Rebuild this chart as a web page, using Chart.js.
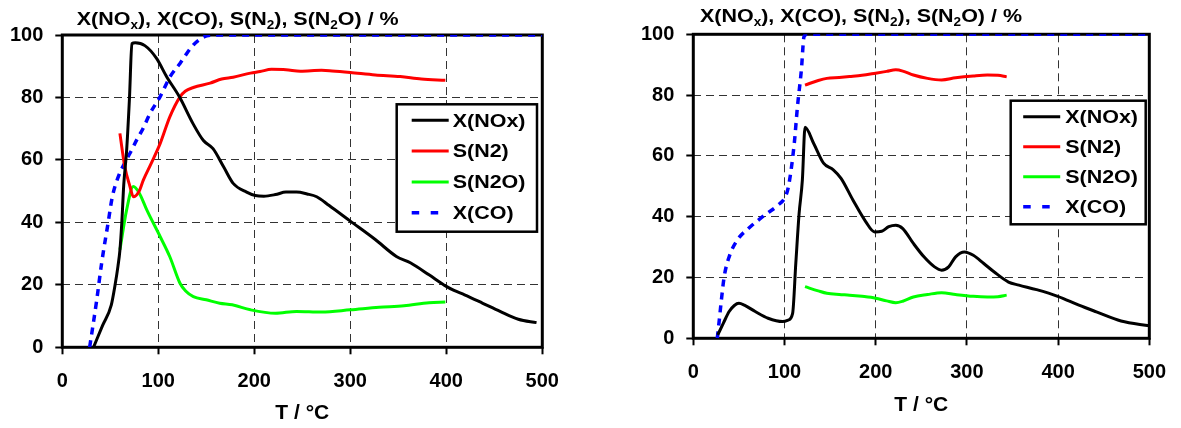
<!DOCTYPE html>
<html><head><meta charset="utf-8">
<script src="https://cdn.jsdelivr.net/npm/chart.js@4.4.1/dist/chart.umd.min.js"></script>
<style>
html,body{margin:0;padding:0;background:#fff;width:1181px;height:428px;overflow:hidden}
canvas{position:absolute;top:0}
</style></head><body>
<canvas id="c1" width="590" height="428" style="left:0"></canvas>
<canvas id="c2" width="591" height="428" style="left:590px"></canvas>
<script>
const xTickValues = [0, 100, 200, 300, 400, 500];
const yTickValues = [0, 20, 40, 60, 80, 100];
const seriesNames = ['X(NOx)', 'S(N2)', 'S(N2O)', 'X(CO)'];
const axisTitleX = 'T / °C';
const titleParts = [['X(NO', 0], ['x', 1], ['), X(CO), S(N', 0], ['2', 1], ['), S(N', 0], ['2', 1], ['O) / %', 0]];

// Left chart
const leftNOxT = [32.5,42,51,55,58,60,62,64,67,70,72.5,76,86,98,109,122,136,147,157,168,178,192,201,210,222,233,244,255,265,278,300,326,348,363,382,400,408,419,438,456,475,494];
const leftNOx  = [0,7,13.5,20,26,31,40,52,63,80,97.2,97.5,96.6,92.6,86.5,80.2,71.7,66.2,63.6,57.8,52.5,49.7,48.6,48.4,48.9,49.7,49.7,49.1,48.2,45.4,40.4,34.5,29.1,27,23.2,19.5,18.2,16.8,14.1,11.5,9,7.9];
const leftN2T  = [60,65,70.5,74,80,84.5,92,102,112,122.6,128,136.5,154,166,178,196,206,218,233,248,270,281,300,326,352,374,399];
const leftN2   = [68.5,58,51.5,48.2,50,53.6,58.5,65.3,73.8,80.2,82,83.2,84.6,85.9,86.5,87.8,88.3,89,88.9,88.4,88.7,88.5,88,87.2,86.7,85.9,85.5];
const leftN2OT = [60,67,74,80,88,102,112,122.6,128.5,136.5,150,164,177,196,222,244,270,300,330,356,382,399];
const leftN2O  = [31.2,44,51.5,49.5,44,35.4,29,20.5,18,16.2,15.2,14.1,13.6,12,10.9,11.5,11.3,12,12.8,13.3,14.3,14.5];
const leftCOT  = [28.5,35.8,41,47.9,52,58.3,65,72.3,77.5,84,91.4,101.8,112.2,122.6,136.5,150.4,160,500];
const leftCO   = [0,15,27,40.2,48,54.6,59,63.2,66.4,70,74.9,80.2,86.6,90.9,96.8,99.7,100,100];

// Right chart
const rightNOxT = [26.8,33,39.3,45,50,56,67.9,82,98,104,108.9,112.4,116,119.6,122.5,132,142.8,153.5,162,175,189,198.8,206.6,214.3,222,229.7,241.3,252.9,264.5,272.2,280,287.6,297.3,307,318.5,330,345.6,357,376.4,399.6,422.8,442,469,500];
const rightNOx  = [1.1,5,8.8,10.8,11.5,10.9,8.8,6.6,5.5,6,8.2,24.7,41,52.1,69.4,64.1,57.6,55.4,52.6,45.5,38.4,35,35.2,36.7,37.2,36.1,31.2,26.8,23.5,22.4,23.5,26.8,28.4,27.3,24.6,21.8,18.5,17.5,16,13.8,10.9,8.7,5.7,4.1];
const rightN2T  = [122.5,137,146.4,160,171.3,185,199.9,212,222,229.7,241.3,256.8,272.2,287.6,307,322.4,334,343.6];
const rightN2   = [83.3,84.8,85.5,85.8,86.1,86.5,87.2,87.8,88.3,87.9,86.6,85.5,85,85.7,86.3,86.6,86.5,86];
const rightN2OT = [122.5,137,146.4,160,171.3,185,199.9,212,222,229.7,241.3,256.8,272.2,287.6,307,322.4,334,343.6];
const rightN2O  = [17,15.6,14.8,14.4,14.2,13.8,13.2,12.3,11.7,12.2,13.6,14.4,15,14.4,13.8,13.6,13.7,14.2];
const rightCOT  = [26.3,28.5,30.4,33.9,39.3,48.2,60.7,78.6,92.8,101.7,105,110.7,114.2,118.5,121.4,124.9,500];
const rightCO   = [0,6,11.5,20.3,26.8,32.3,36.2,40.6,43.8,47.1,51,64.1,76.2,88.3,99.2,100,100];

const FONT = "'Liberation Sans', Arial, sans-serif";
const styles = [
  {color: '#000000', width: 3, dash: []},
  {color: '#ff0000', width: 3, dash: []},
  {color: '#00ff00', width: 3, dash: []},
  {color: '#0000ff', width: 3.5, dash: [7, 6]}
];

function pts(t, v) { return t.map((x, i) => ({x: x, y: v[i]})); }

const framePlugin = {
  id: 'frame',
  beforeDatasetsDraw(chart) {
    const {ctx, chartArea: a} = chart;
    ctx.save();
    ctx.strokeStyle = '#000';
    ctx.lineWidth = 3;
    ctx.strokeRect(a.left, a.top, a.right - a.left, a.bottom - a.top);
    ctx.restore();
  }
};

const legendPlugin = {
  id: 'boxLegend',
  afterDatasetsDraw(chart, args, opts) {
    const {ctx} = chart;
    const b = opts.box;
    ctx.save();
    ctx.fillStyle = '#fff';
    ctx.fillRect(b.x, b.y, b.w, b.h);
    ctx.strokeStyle = '#000';
    ctx.lineWidth = 2.5;
    ctx.strokeRect(b.x, b.y, b.w, b.h);
    ctx.textBaseline = 'middle';
    chart.data.datasets.forEach((ds, i) => {
      const y = b.y + opts.firstRow + i * opts.rowGap;
      ctx.beginPath();
      ctx.strokeStyle = ds.borderColor;
      ctx.lineWidth = ds.borderWidth;
      ctx.setLineDash(ds.borderDash && ds.borderDash.length ? [7.5, 11.5] : []);
      ctx.moveTo(b.x + opts.lineX, y);
      ctx.lineTo(b.x + opts.lineX + opts.lineLen, y);
      ctx.stroke();
      ctx.setLineDash([]);
      ctx.save();
      ctx.translate(b.x + opts.textX, y + 1);
      ctx.scale(1.13, 1);
      ctx.font = 'bold 19px ' + FONT;
      ctx.fillStyle = '#000';
      ctx.fillText(ds.label, 0, 0);
      ctx.restore();
    });
    ctx.restore();
  }
};

const titlePlugin = {
  id: 'richTitle',
  afterDraw(chart, args, opts) {
    const {ctx} = chart;
    ctx.save();
    ctx.fillStyle = '#000';
    ctx.textBaseline = 'alphabetic';
    ctx.translate(opts.x, opts.y);
    ctx.scale(1.13, 1);
    let x = 0;
    titleParts.forEach(([txt, sub]) => {
      ctx.font = sub ? 'bold 12px ' + FONT : 'bold 19px ' + FONT;
      ctx.fillText(txt, x, sub ? 4 : 0);
      x += ctx.measureText(txt).width;
    });
    ctx.restore();
  }
};

function makeChart(id, cfg) {
  const series = cfg.series;
  return new Chart(document.getElementById(id), {
    type: 'line',
    data: {
      datasets: series.map((s, i) => ({
        label: seriesNames[i],
        data: pts(s[0], s[1]),
        borderColor: styles[i].color,
        backgroundColor: styles[i].color,
        borderWidth: styles[i].width,
        borderDash: styles[i].dash,
        borderCapStyle: 'butt',
        borderJoinStyle: 'round',
        pointRadius: 0,
        cubicInterpolationMode: 'monotone',
        fill: false
      }))
    },
    options: {
      responsive: false,
      animation: false,
      devicePixelRatio: 1,
      layout: {padding: {left: 0, top: cfg.area.top, right: cfg.w - cfg.area.right, bottom: 0}},
      plugins: {
        legend: {display: false},
        tooltip: {enabled: false},
        boxLegend: cfg.legend,
        richTitle: cfg.title
      },
      scales: {
        x: {
          type: 'linear', min: 0, max: 500,
          afterBuildTicks: s => { s.ticks = xTickValues.map(v => ({value: v})); },
          afterFit: s => { s.height = 428 - cfg.area.bottom; },
          grid: {color: '#333', lineWidth: 1, drawTicks: true, tickLength: 7, tickColor: '#000', tickWidth: 2},
          border: {display: false, dash: [8, 5]},
          ticks: {color: '#000', padding: 15, maxRotation: 0, font: {family: FONT, size: 20, weight: 'bold'}},
          title: {display: true, text: axisTitleX, color: '#000', font: {family: FONT, size: 21, weight: 'bold'}, padding: {top: 0, bottom: cfg.xTitlePad}}
        },
        y: {
          type: 'linear', min: 0, max: 100,
          afterBuildTicks: s => { s.ticks = yTickValues.map(v => ({value: v})); },
          afterFit: s => { s.width = cfg.area.left; },
          grid: {color: '#333', lineWidth: 1, drawTicks: true, tickLength: 7, tickColor: '#000', tickWidth: 2},
          border: {display: false, dash: [8, 5]},
          ticks: {color: '#000', padding: 12, font: {family: FONT, size: 20, weight: 'bold'}}
        }
      }
    },
    plugins: [framePlugin, legendPlugin, titlePlugin]
  });
}

makeChart('c1', {
  w: 590,
  area: {left: 62.3, right: 542.3, top: 35, bottom: 347.3},
  xTitlePad: 2,
  series: [[leftNOxT, leftNOx], [leftN2T, leftN2], [leftN2OT, leftN2O], [leftCOT, leftCO]],
  legend: {box: {x: 396.7, y: 104.3, w: 140.3, h: 127.4}, lineX: 15, lineLen: 37, textX: 56, firstRow: 16, rowGap: 30.8},
  title: {x: 76.7, y: 25}
});
makeChart('c2', {
  w: 591,
  area: {left: 103.3, right: 570.3, top: 34.3, bottom: 338.3},
  xTitlePad: 10,
  series: [[rightNOxT, rightNOx], [rightN2T, rightN2], [rightN2OT, rightN2O], [rightCOT, rightCO]],
  legend: {box: {x: 420.7, y: 100.7, w: 135, h: 123.6}, lineX: 12.5, lineLen: 37, textX: 54.5, firstRow: 16, rowGap: 30},
  title: {x: 110, y: 22}
});
</script>
</body></html>
